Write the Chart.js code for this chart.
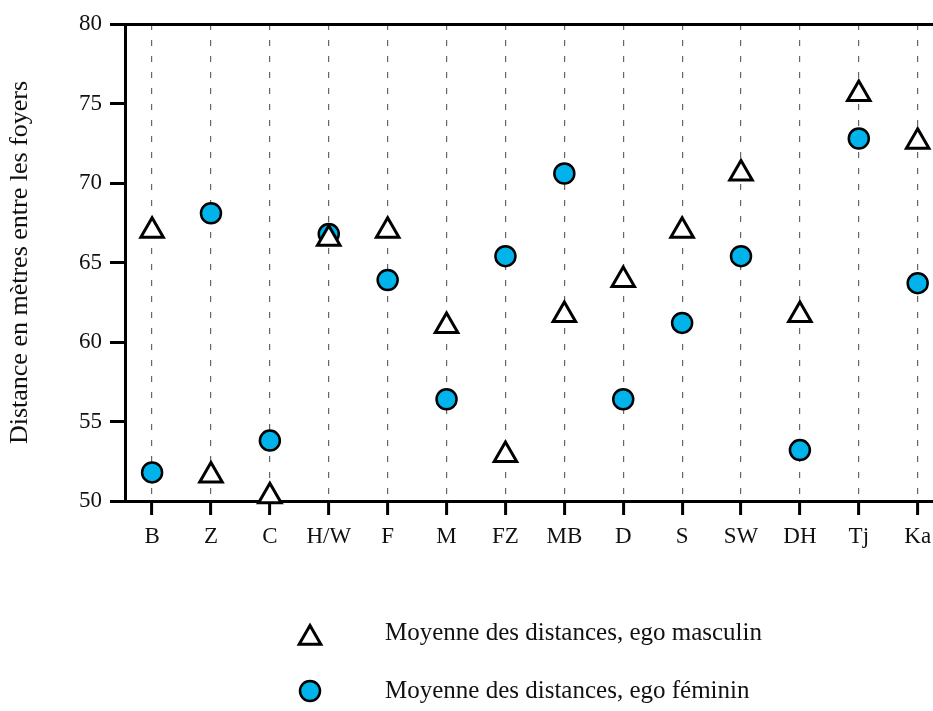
<!DOCTYPE html>
<html>
<head>
<meta charset="utf-8">
<script src="https://cdn.jsdelivr.net/npm/chart.js@4.4.1/dist/chart.umd.min.js"></script>
<style>
  body { margin: 0; background: #fff; overflow: hidden; }
  #wrap { width: 933px; height: 711px; }
</style>
</head>
<body>
<div id="wrap"><canvas id="chart" width="933" height="711"></canvas></div>
<script>
// categories (axe x)
const categories = ['B', 'Z', 'C', 'H/W', 'F', 'M', 'FZ', 'MB', 'D', 'S', 'SW', 'DH', 'Tj', 'Ka'];
// moyenne des distances, ego masculin (triangles)
const egoMasculin = [67.0, 51.6, 50.3, 66.5, 67.0, 61.0, 52.9, 61.7, 63.9, 67.0, 70.6, 61.7, 75.6, 72.6];
// moyenne des distances, ego féminin (cercles)
const egoFeminin = [51.8, 68.1, 53.8, 66.8, 63.9, 56.4, 65.4, 70.6, 56.4, 61.2, 65.4, 53.2, 72.8, 63.7];
// ticks de l'axe y
const yTicks = [50, 55, 60, 65, 70, 75, 80];

const serif = '"Liberation Serif", "Times New Roman", serif';
const bleu = '#00B4EB';

// legende verticale sous le graphique
const legendRows = {
    id: 'legendRows',
    afterDraw(chart) {
        const ctx = chart.ctx;
        chart.data.datasets.forEach((ds, i) => {
            const yText = 633 + i * 58;
            const yMark = ds.pointStyle === 'triangle' ? yText + 5 : yText;
            ctx.save();
            ctx.fillStyle = ds.backgroundColor;
            ctx.strokeStyle = ds.borderColor;
            ctx.lineWidth = ds.borderWidth;
            Chart.helpers.drawPoint(ctx, {
                pointStyle: ds.pointStyle,
                radius: ds.pointStyle === 'triangle' ? 12.5 : 10,
                borderWidth: ds.borderWidth,
                rotation: 0
            }, 310, yMark);
            ctx.fillStyle = '#111';
            ctx.font = '25px ' + serif;
            ctx.textBaseline = 'middle';
            ctx.textAlign = 'left';
            ctx.fillText(ds.label, 385, yText);
            ctx.restore();
        });
    }
};

const toPoints = arr => arr.map((v, i) => ({ x: i, y: v }));

new Chart(document.getElementById('chart'), {
    type: 'scatter',
    data: {
        datasets: [
            {
                label: 'Moyenne des distances, ego masculin',
                data: toPoints(egoMasculin),
                pointStyle: 'triangle',
                pointRadius: 13,
                pointHoverRadius: 13,
                backgroundColor: '#ffffff',
                borderColor: '#000000',
                borderWidth: 3,
                clip: false
            },
            {
                label: 'Moyenne des distances, ego féminin',
                data: toPoints(egoFeminin),
                pointStyle: 'circle',
                pointRadius: 10,
                pointHoverRadius: 10,
                backgroundColor: bleu,
                borderColor: '#000000',
                borderWidth: 2.5,
                clip: false
            }
        ]
    },
    options: {
        responsive: false,
        animation: false,
        layout: { autoPadding: false, padding: { top: 24, bottom: 150, left: 0, right: 0 } },
        plugins: {
            legend: { display: false },
            tooltip: { enabled: false }
        },
        scales: {
            x: {
                type: 'linear',
                min: -0.46,
                max: 13.26,
                afterBuildTicks: s => { s.ticks = categories.map((_, i) => ({ value: i })); },
                afterFit: s => { s.height = 60; s.paddingLeft = 0; s.paddingRight = 0; },
                ticks: {
                    callback: v => categories[v],
                    color: '#111',
                    font: { family: serif, size: 23 },
                    padding: 8,
                    maxRotation: 0,
                    autoSkip: false
                },
                grid: {
                    color: '#666',
                    lineWidth: 1.2,
                    tickColor: '#000',
                    tickWidth: 3,
                    tickLength: 14
                },
                border: { display: true, color: '#000', width: 3, dash: [6, 10] }
            },
            y: {
                min: 50,
                max: 80,
                afterBuildTicks: s => { s.ticks = yTicks.map(v => ({ value: v })); },
                afterFit: s => { s.width = 125; },
                ticks: {
                    color: '#111',
                    font: { family: serif, size: 23 },
                    padding: 8
                },
                grid: {
                    // seule la ligne du haut (80) est visible -> cadre superieur
                    color: c => (c.tick && c.tick.value === 80) ? '#000' : 'rgba(0,0,0,0)',
                    lineWidth: 3,
                    tickColor: '#000',
                    tickWidth: 3,
                    tickLength: 15
                },
                border: { display: true, color: '#000', width: 3 },
                title: {
                    display: true,
                    text: 'Distance en mètres entre les foyers',
                    color: '#111',
                    font: { family: serif, size: 26 },
                    padding: { top: 5, bottom: 0 }
                }
            }
        }
    },
    plugins: [legendRows]
});
</script>
</body>
</html>
